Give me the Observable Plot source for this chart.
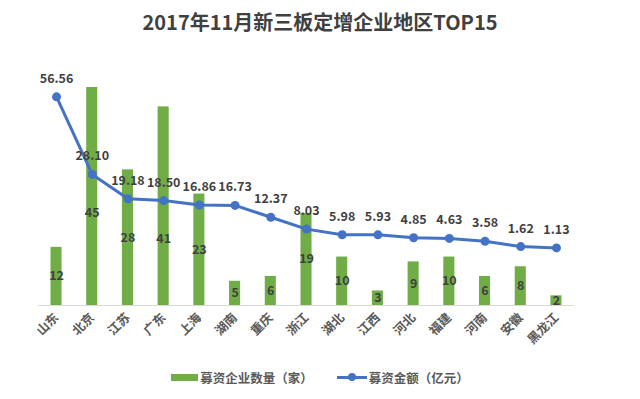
<!DOCTYPE html>
<html><head><meta charset="utf-8">
<script src="https://cdn.jsdelivr.net/npm/d3@7"></script>
<script src="https://cdn.jsdelivr.net/npm/@observablehq/plot@0.6"></script>
<style>
body{margin:0;background:#fff;font-family:"Noto Sans CJK SC",sans-serif;width:640px;height:399px;overflow:hidden;}
#title{height:45px;line-height:44px;text-align:center;font-size:20px;font-weight:bold;color:#404040;}
#chart{height:315px;}
#legend{height:34px;display:flex;justify-content:center;align-items:center;font-size:12.5px;font-weight:bold;color:#595959;padding-left:0px;}
.item{display:flex;align-items:center;margin:0 12px;}
.sw{width:27px;height:7px;background:#70AD47;margin-right:2px;}
.ln{position:relative;width:30px;height:3px;background:#4472C4;margin-right:2px;}
.ln::after{content:"";position:absolute;left:11px;top:-2.5px;width:8px;height:8px;border-radius:50%;background:#4472C4;}
</style></head>
<body>
<div id="title">2017年11月新三板定增企业地区TOP15</div>
<div id="chart"></div>
<div id="legend">
  <div class="item"><span class="sw"></span>募资企业数量（家）</div>
  <div class="item"><span class="ln"></span>募资金额（亿元）</div>
</div>
<script>
const regions = ["山东","北京","江苏","广东","上海","湖南","重庆","浙江","湖北","江西","河北","福建","河南","安徽","黑龙江"];
const companyCounts = [12,45,28,41,23,5,6,19,10,3,9,10,6,8,2];
const fundAmounts = [56.56,28.10,19.18,18.50,16.86,16.73,12.37,8.03,5.98,5.93,4.85,4.63,3.58,1.62,1.13];

// secondary axis (amount, -20..60) mapped onto the primary axis (count, 0..45)
const y2 = d3.scaleLinear([-20, 60], [0, 45]);
const data = regions.map((r, i) => {
  const amountY = y2(fundAmounts[i]);
  const mid = companyCounts[i] / 2;
  return {
    region: r,
    count: companyCounts[i],
    amount: fundAmounts[i],
    amountY,
    labelY: Math.abs(mid - amountY) < 5 ? amountY - 8 : mid
  };
});

const chart = Plot.plot({
  width: 640, height: 315,
  marginTop: 42, marginBottom: 55, marginLeft: 38, marginRight: 66,
  style: {fontFamily: '"Noto Sans CJK SC", sans-serif', background: "transparent"},
  x: {domain: regions, paddingInner: 0.69, paddingOuter: 0.35, round: false, axis: null},
  y: {domain: [0, 45], axis: null},
  marks: [
    Plot.barY(data, {x: "region", y: "count", fill: "#70AD47"}),
    Plot.ruleY([0], {stroke: "#D9D9D9"}),
    Plot.axisX({tickSize: 0, tickRotate: -45, tickPadding: 10, fontSize: 12.5, fontWeight: "bold", fill: "#595959", label: null}),
    Plot.text(data, {x: "region", y: "labelY", text: "count", fill: "#404040", fontWeight: "bold", fontSize: 12.5}),
    Plot.line(data, {x: "region", y: "amountY", stroke: "#4472C4", strokeWidth: 3}),
    Plot.dot(data, {x: "region", y: "amountY", r: 4.5, fill: "#4472C4"}),
    Plot.text(data, {x: "region", y: "amountY", text: d => d.amount.toFixed(2), dy: -18, fill: "#404040", fontWeight: "bold", fontSize: 12.5})
  ]
});
document.getElementById("chart").appendChild(chart);
</script>
</body></html>
